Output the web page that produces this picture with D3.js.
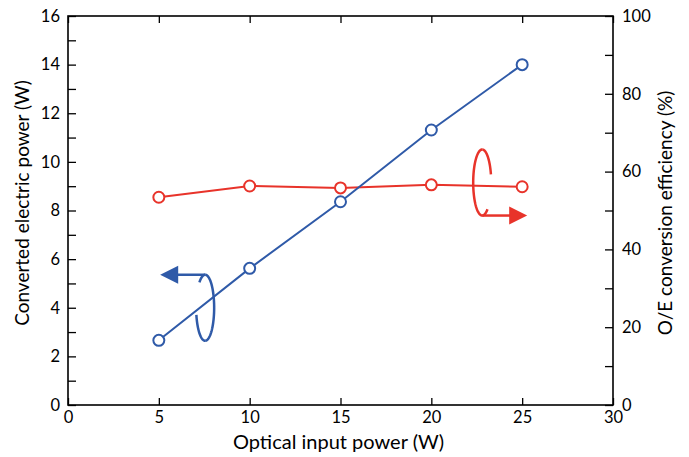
<!DOCTYPE html>
<html>
<head>
<meta charset="utf-8">
<script src="https://cdn.jsdelivr.net/npm/d3@7"></script>
<style>
  body { margin: 0; background: #fff; }
  text { font-family: Lato, "Open Sans", sans-serif; fill: #000; }
</style>
</head>
<body>
<svg id="chart" width="689" height="457"></svg>
<script>
// Data
const inputPower = [5, 10, 15, 20, 25];
const electricPower = [2.66, 5.62, 8.36, 11.31, 14.0];
const efficiency = [53.4, 56.3, 55.8, 56.6, 56.1];
const xTicks = [0, 5, 10, 15, 20, 25, 30];
const yLeftTicks = [0, 2, 4, 6, 8, 10, 12, 14, 16];
const yRightTicks = [0, 20, 40, 60, 80, 100];

const blue = "#2f5aa8";
const red = "#e8332a";

const svg = d3.select("#chart"),
    width = +svg.attr("width"),
    height = +svg.attr("height");
const margin = { top: 16, right: 76, bottom: 52, left: 68 };
const innerW = width - margin.left - margin.right;
const innerH = height - margin.top - margin.bottom;

const g = svg.append("g").attr("transform", `translate(${margin.left},${margin.top})`);

// Scales
const x = d3.scaleLinear().domain([0, 30]).range([0, innerW]);
const yL = d3.scaleLinear().domain([0, 16]).range([innerH, 0]);
const yR = d3.scaleLinear().domain([0, 100]).range([innerH, 0]);

// Axes (ticks point inward)
function styleAxis(sel) {
    sel.select(".domain").remove();
    sel.selectAll("line").attr("stroke", "#000").attr("stroke-width", 1.3);
    sel.selectAll("text").style("font-size", "16.5px");
}

g.append("g")
    .attr("transform", `translate(0,${innerH})`)
    .call(d3.axisBottom(x).tickValues(xTicks).tickSizeInner(-7).tickSizeOuter(0).tickPadding(6))
    .call(styleAxis);

g.append("g")
    .call(d3.axisTop(x).tickValues(xTicks).tickSizeInner(-7).tickSizeOuter(0).tickFormat(""))
    .call(styleAxis);

// left axis: minor ticks every 1, labels every 2
g.append("g")
    .call(d3.axisLeft(yL).tickValues(d3.range(0, 17, 1)).tickSizeInner(-8).tickSizeOuter(0).tickPadding(8)
        .tickFormat(d => yLeftTicks.includes(d) ? d : ""))
    .call(styleAxis);

// right axis: minor ticks every 10, labels every 20
g.append("g")
    .attr("transform", `translate(${innerW},0)`)
    .call(d3.axisRight(yR).tickValues(d3.range(0, 101, 10)).tickSizeInner(-8).tickSizeOuter(0).tickPadding(9)
        .tickFormat(d => yRightTicks.includes(d) ? d : ""))
    .call(styleAxis);

// Frame
g.append("rect")
    .attr("width", innerW)
    .attr("height", innerH)
    .attr("fill", "none")
    .attr("stroke", "#000")
    .attr("stroke-width", 1.6);

// Axis titles
svg.append("text")
    .attr("x", margin.left + innerW / 2 - 2)
    .attr("y", height - 8)
    .attr("text-anchor", "middle")
    .style("font-size", "20px")
    .text("Optical input power (W)");

svg.append("text")
    .attr("transform", `translate(29,${margin.top + 187}) rotate(-90)`)
    .attr("text-anchor", "middle")
    .style("font-size", "19px")
    .text("Converted electric power (W)");

svg.append("text")
    .attr("transform", `translate(${width - 17},${margin.top + 197}) rotate(-90)`)
    .attr("text-anchor", "middle")
    .style("font-size", "19px")
    .text("O/E conversion efficiency (%)");

// Ellipse helper: points along an ellipse between two angles (0 = right, clockwise on screen)
function ellipseArc(cx, cy, rx, ry, a0, a1) {
    const pts = d3.range(0, 61).map(i => {
        const a = a0 + (a1 - a0) * i / 60;
        return [cx + rx * Math.cos(a), cy + ry * Math.sin(a)];
    });
    return d3.line()(pts);
}

function arrowHead(tipX, tipY, dir, color) {
    const len = 18, half = 9;
    g.append("path")
        .attr("d", `M${tipX},${tipY} L${tipX - dir * len},${tipY - half} L${tipX - dir * len},${tipY + half} Z`)
        .attr("fill", color);
}

// Blue annotation (back side of ring, drawn before the line)
const bc = { x: x(7.55), y: yL(4.0), rx: 9, ry: 33 };
g.append("path")
    .attr("d", ellipseArc(bc.x, bc.y, bc.rx, bc.ry, Math.PI / 2, Math.PI * 0.93))
    .attr("fill", "none").attr("stroke", blue).attr("stroke-width", 2.5);
g.append("path")
    .attr("d", ellipseArc(bc.x, bc.y, bc.rx, bc.ry, Math.PI * 1.28, Math.PI * 1.5))
    .attr("fill", "none").attr("stroke", blue).attr("stroke-width", 2.5);

// Red annotation (back side of ring)
const rc = { x: x(22.8), y: yL(9.15), rx: 9, ry: 33 };
g.append("path")
    .attr("d", ellipseArc(rc.x, rc.y, rc.rx, rc.ry, -Math.PI / 2, -Math.PI * 0.08))
    .attr("fill", "none").attr("stroke", red).attr("stroke-width", 2.5);
g.append("path")
    .attr("d", ellipseArc(rc.x, rc.y, rc.rx, rc.ry, Math.PI * 0.3, Math.PI / 2))
    .attr("fill", "none").attr("stroke", red).attr("stroke-width", 2.5);

// Data lines
const lineL = d3.line().x((d, i) => x(inputPower[i])).y(d => yL(d));
const lineR = d3.line().x((d, i) => x(inputPower[i])).y(d => yR(d));

g.append("path")
    .datum(efficiency)
    .attr("d", lineR)
    .attr("fill", "none")
    .attr("stroke", red)
    .attr("stroke-width", 2);

g.append("path")
    .datum(electricPower)
    .attr("d", lineL)
    .attr("fill", "none")
    .attr("stroke", blue)
    .attr("stroke-width", 2);

// Front side of rings
g.append("path")
    .attr("d", ellipseArc(bc.x, bc.y, bc.rx, bc.ry, -Math.PI / 2, Math.PI / 2))
    .attr("fill", "none").attr("stroke", blue).attr("stroke-width", 2.5);
g.append("path")
    .attr("d", ellipseArc(rc.x, rc.y, rc.rx, rc.ry, Math.PI / 2, Math.PI * 1.5))
    .attr("fill", "none").attr("stroke", red).attr("stroke-width", 2.5);

// Arrows
g.append("line")
    .attr("x1", bc.x).attr("y1", bc.y - bc.ry)
    .attr("x2", bc.x - 30).attr("y2", bc.y - bc.ry)
    .attr("stroke", blue).attr("stroke-width", 2.5);
arrowHead(bc.x - 45, bc.y - bc.ry, -1, blue);

g.append("line")
    .attr("x1", rc.x).attr("y1", rc.y + rc.ry)
    .attr("x2", rc.x + 30).attr("y2", rc.y + rc.ry)
    .attr("stroke", red).attr("stroke-width", 2.5);
arrowHead(rc.x + 45, rc.y + rc.ry, 1, red);

// Markers
g.selectAll(".ptR")
    .data(efficiency)
    .enter()
    .append("circle")
    .attr("class", "ptR")
    .attr("cx", (d, i) => x(inputPower[i]))
    .attr("cy", d => yR(d))
    .attr("r", 5.5)
    .attr("fill", "#fff")
    .attr("stroke", red)
    .attr("stroke-width", 2);

g.selectAll(".ptL")
    .data(electricPower)
    .enter()
    .append("circle")
    .attr("class", "ptL")
    .attr("cx", (d, i) => x(inputPower[i]))
    .attr("cy", d => yL(d))
    .attr("r", 5.5)
    .attr("fill", "#fff")
    .attr("stroke", blue)
    .attr("stroke-width", 2);
</script>
</body>
</html>
